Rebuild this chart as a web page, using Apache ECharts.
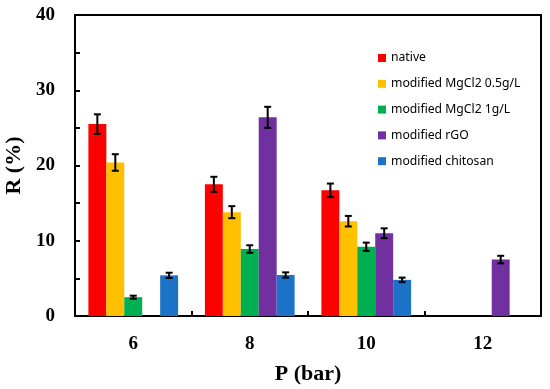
<!DOCTYPE html>
<html><head><meta charset="utf-8">
<script src="https://cdn.jsdelivr.net/npm/echarts@6/dist/echarts.min.js"></script>
<style>html,body{margin:0;padding:0;background:#fff}#c{width:550px;height:389px}</style>
</head><body><div id="c"></div>
<script>
const categories = ['6', '8', '10', '12'];
const seriesNames = ['native', 'modified MgCl2 0.5g/L', 'modified MgCl2 1g/L', 'modified rGO', 'modified chitosan'];
const colors = ['#FF0000', '#FFC000', '#00B050', '#7030A0', '#1B72C6'];
const native = [25.5, 17.5, 16.7, null];
const mgcl05 = [20.4, 13.8, 12.6, null];
const mgcl1 = [2.5, 8.9, 9.2, null];
const rgo = [null, 26.4, 11.0, 7.5];
const chitosan = [5.4, 5.45, 4.8, null];
const errNative = [1.3, 1.0, 0.9, null];
const errMgcl05 = [1.1, 0.8, 0.7, null];
const errMgcl1 = [0.2, 0.5, 0.55, null];
const errRgo = [null, 1.4, 0.65, 0.5];
const errChitosan = [0.35, 0.35, 0.3, null];
const yTicks = [0, 10, 20, 30, 40];

const values = [native, mgcl05, mgcl1, rgo, chitosan];
const errs = [errNative, errMgcl05, errMgcl1, errRgo, errChitosan];
const gapRatio = 0.23;

const chart = echarts.init(document.getElementById('c'));
const series = [];
values.forEach((v, i) => {
  series.push({
    name: seriesNames[i], type: 'bar', data: v.map(x => x === null ? '-' : x),
    itemStyle: { color: colors[i] }, barGap: '0%', barCategoryGap: '23%'
  });
});
values.forEach((v, i) => {
  const d = [];
  v.forEach((x, k) => { if (x !== null) d.push([k, x, errs[i][k]]); });
  series.push({
    type: 'custom', name: 'err' + i, z: 10,
    data: d,
    renderItem: function (params, api) {
      const k = api.value(0), val = api.value(1), e = api.value(2);
      const band = api.size([1, 0])[0];
      const bw = band * (1 - gapRatio) / values.length;
      const off = (i - (values.length - 1) / 2) * bw;
      const c = api.coord([k, val]);
      const hi = api.coord([k, val + e]);
      const lo = api.coord([k, val - e]);
      const x = c[0] + off;
      const cap = 3.5;
      const st = { stroke: '#000', lineWidth: 2 };
      return { type: 'group', children: [
        { type: 'line', shape: { x1: x, y1: hi[1], x2: x, y2: lo[1] }, style: st },
        { type: 'line', shape: { x1: x - cap, y1: hi[1], x2: x + cap, y2: hi[1] }, style: st },
        { type: 'line', shape: { x1: x - cap, y1: lo[1], x2: x + cap, y2: lo[1] }, style: st }
      ]};
    },
    encode: { x: 0, y: 1 }
  });
});

chart.setOption({
  animation: false,
  backgroundColor: '#fff',
  grid: { left: 75, right: 9, top: 15, bottom: 73, show: true, borderColor: '#000', borderWidth: 2,
    containLabel: false, outerBoundsMode: 'none' },
  legend: {
    data: seriesNames, orient: 'vertical', left: 373, top: 47,
    icon: 'rect', itemWidth: 8, itemHeight: 8, itemGap: 13.8,
    textStyle: { fontFamily: 'Noto Sans', fontSize: 12.2, color: '#000' }
  },
  xAxis: {
    type: 'category', data: categories,
    name: 'P (bar)', nameLocation: 'middle', nameGap: 47,
    nameTextStyle: { fontFamily: 'Liberation Serif', fontWeight: 'bold', fontSize: 22, color: '#000' },
    axisLine: { lineStyle: { color: '#000', width: 2 } },
    axisTick: { show: true, inside: true, length: 5, lineStyle: { color: '#000', width: 2 } },
    axisLabel: { fontFamily: 'Liberation Serif', fontWeight: 'bold', fontSize: 19, color: '#000', margin: 19 }
  },
  yAxis: {
    type: 'value', min: 0, max: 40, interval: 5,
    name: 'R (%)', nameLocation: 'middle', nameGap: 49, nameRotate: 90,
    nameTextStyle: { fontFamily: 'Liberation Serif', fontWeight: 'bold', fontSize: 22, color: '#000' },
    axisLine: { show: true, lineStyle: { color: '#000', width: 2 } },
    axisTick: { show: true, inside: true, length: 5, lineStyle: { color: '#000', width: 2 } },
    splitLine: { show: false },
    axisLabel: { fontFamily: 'Liberation Serif', fontWeight: 'bold', fontSize: 19, color: '#000', margin: 20,
      formatter: v => yTicks.includes(v) ? String(v) : '' }
  },
  series: series
});
</script></body></html>
